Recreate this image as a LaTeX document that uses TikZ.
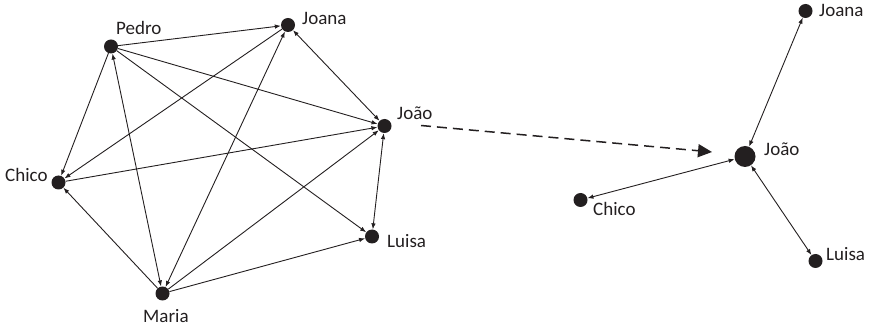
\documentclass[tikz,border=0pt]{standalone}
\usepackage{fontspec}
\setmainfont{Carlito}
\usetikzlibrary{arrows.meta}
\definecolor{ink}{HTML}{231F20}
\begin{document}
\begin{tikzpicture}[x=1pt,y=-1pt,
  dot/.style={circle,fill=ink,inner sep=0pt,minimum size=14pt},
  bigdot/.style={circle,fill=ink,inner sep=0pt,minimum size=21pt},
  lbl/.style={anchor=base west,inner sep=0pt,text=ink,font=\fontsize{19}{22}\selectfont},
  edge/.style={draw=ink,line width=0.9pt,-{Latex[length=6pt,width=4.5pt]}},
  dedge/.style={draw=ink,line width=0.9pt,{Latex[length=6pt,width=4.5pt]}-{Latex[length=6pt,width=4.5pt]}},
  flow/.style={draw=ink,line width=1.5pt,dash pattern=on 10pt off 6pt,-{Triangle[length=14pt,width=13pt]}}]
\useasboundingbox (0,0) rectangle (869,328);
% left graph
\node[dot] (pe) at (111,46.5) {};
\node[dot] (jo) at (288,25) {};
\node[dot] (ja) at (384.5,126) {};
\node[dot] (ch) at (58.5,182.5) {};
\node[dot] (lu) at (372,236.5) {};
\node[dot] (ma) at (162.5,293.5) {};
\node[lbl] (lpe) at (116,34.5) {Pedro};
\node[lbl] (ljo) at (302,25) {Joana};
\node[lbl] (lja) at (397,119.5) {João};
\node[lbl] (lch) at (5,182) {Chico};
\node[lbl] (llu) at (387,248) {Luisa};
\node[lbl] (lma) at (143,323) {Maria};
\draw[edge] (pe) -- (jo);
\draw[edge] (pe) -- (ja);
\draw[edge] (pe) -- (lu);
\draw[edge] (pe) -- (ch);
\draw[dedge] (pe) -- (ma);
\draw[dedge] (jo) -- (ja);
\draw[edge] (jo) -- (ch);
\draw[dedge] (jo) -- (ma);
\draw[edge] (ch) -- (ja);
\draw[edge] (ma) -- (ch);
\draw[edge] (ma) -- (ja);
\draw[edge] (ma) -- (lu);
\draw[dedge] (ja) -- (lu);
% right graph
\node[dot] (rjo) at (805.5,11) {};
\node[bigdot] (rja) at (745,156.5) {};
\node[dot] (rch) at (580.5,200) {};
\node[dot] (rlu) at (815.5,261) {};
\node[lbl] (lrjo) at (819,16.5) {Joana};
\node[lbl] (lrja) at (764,156) {João};
\node[lbl] (lrch) at (593,216) {Chico};
\node[lbl] (lrlu) at (826,260.5) {Luisa};
\draw[dedge] (rja) -- (rjo);
\draw[dedge] (rja) -- (rch);
\draw[dedge] (rja) -- (rlu);
% transition arrow
\coordinate (fs) at (421,125.5);
\coordinate (fe) at (712,152);
\draw[flow] (fs) -- (fe);
\end{tikzpicture}
\end{document}
